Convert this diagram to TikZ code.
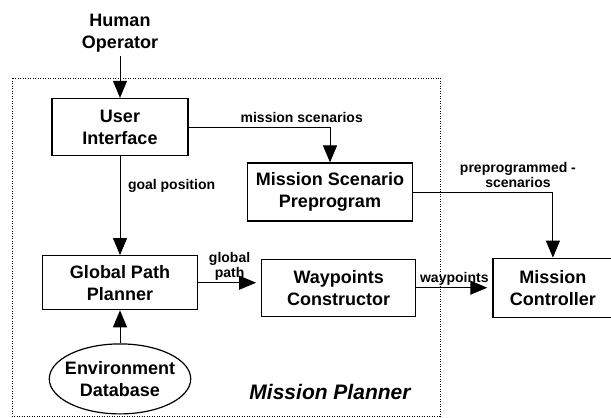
\documentclass[tikz,border=0pt]{standalone}
\usepackage{fontspec}
\setmainfont{Liberation Sans}
\usetikzlibrary{shapes,arrows.meta,positioning}

\newcommand{\boxfont}{\fontsize{18}{22}\selectfont\bfseries}
\newcommand{\lblfont}{\fontsize{14}{15}\selectfont\bfseries}
\newcommand{\framefont}{\fontsize{21}{24}\selectfont\bfseries\itshape}

\begin{document}
\begin{tikzpicture}[
  x=1pt, y=1pt,
  node distance=40pt and 60pt,
  box/.style={rectangle, draw, line width=1.2pt, align=center, inner sep=2pt, font=\boxfont},
  dbase/.style={ellipse, draw, line width=1.2pt, align=center, inner xsep=-5pt, inner ysep=0pt, minimum height=70pt, font=\boxfont},
  lbl/.style={align=center, inner sep=1.5pt, font=\lblfont},
  arrow/.style={-{Triangle[length=17pt,width=14pt]}, line width=1pt}
]
\useasboundingbox (0,0) rectangle (611,-418);

\draw[line width=1pt, dash pattern=on 1pt off 1.5pt] (12,-78) rectangle (440,-416);

\node[box, minimum width=136pt, minimum height=57pt] (ui) at (120,-127) {User\\Interface};
\node[font=\boxfont, align=center, above=42pt of ui] (human) {Human\\Operator};
\node[box, minimum width=155pt, minimum height=54pt, below=99pt of ui] (gpp) {Global Path\\Planner};
\node[dbase, below=33pt of gpp] (envdb) {Environment\\Database};
\node[box, minimum width=154pt, minimum height=57pt, right=63pt of gpp, yshift=-5pt] (wpc) {Waypoints\\Constructor};
\node[box, minimum width=120pt, minimum height=59pt, right=76pt of wpc] (ctrl) {Mission\\Controller};
\node[box, minimum width=165pt, minimum height=58pt] (msp) at (330,-192) {Mission Scenario\\Preprogram};
\node[font=\framefont] (planner) at (330,-392) {Mission Planner};

\draw[arrow] (human) -- (ui);
\draw[arrow] (ui) -- node[lbl, pos=0.3, right=6pt] {goal position} (gpp);
\draw[arrow] (envdb) -- (gpp);
\draw[arrow] (ui.east) -| node[lbl, pos=0.4, above=2pt] {mission scenarios} (msp.north);
\draw[arrow] (msp.east) -| node[lbl, pos=0.375, above=2pt] {preprogrammed -\\scenarios} (ctrl.north);
\draw[arrow, shorten >=5pt] (gpp.east) -- node[lbl, above] {global\\path} (gpp.east -| wpc.west);
\draw[arrow, shorten >=5pt] (wpc) -- node[lbl, above] {waypoints} (ctrl);

\end{tikzpicture}
\end{document}
